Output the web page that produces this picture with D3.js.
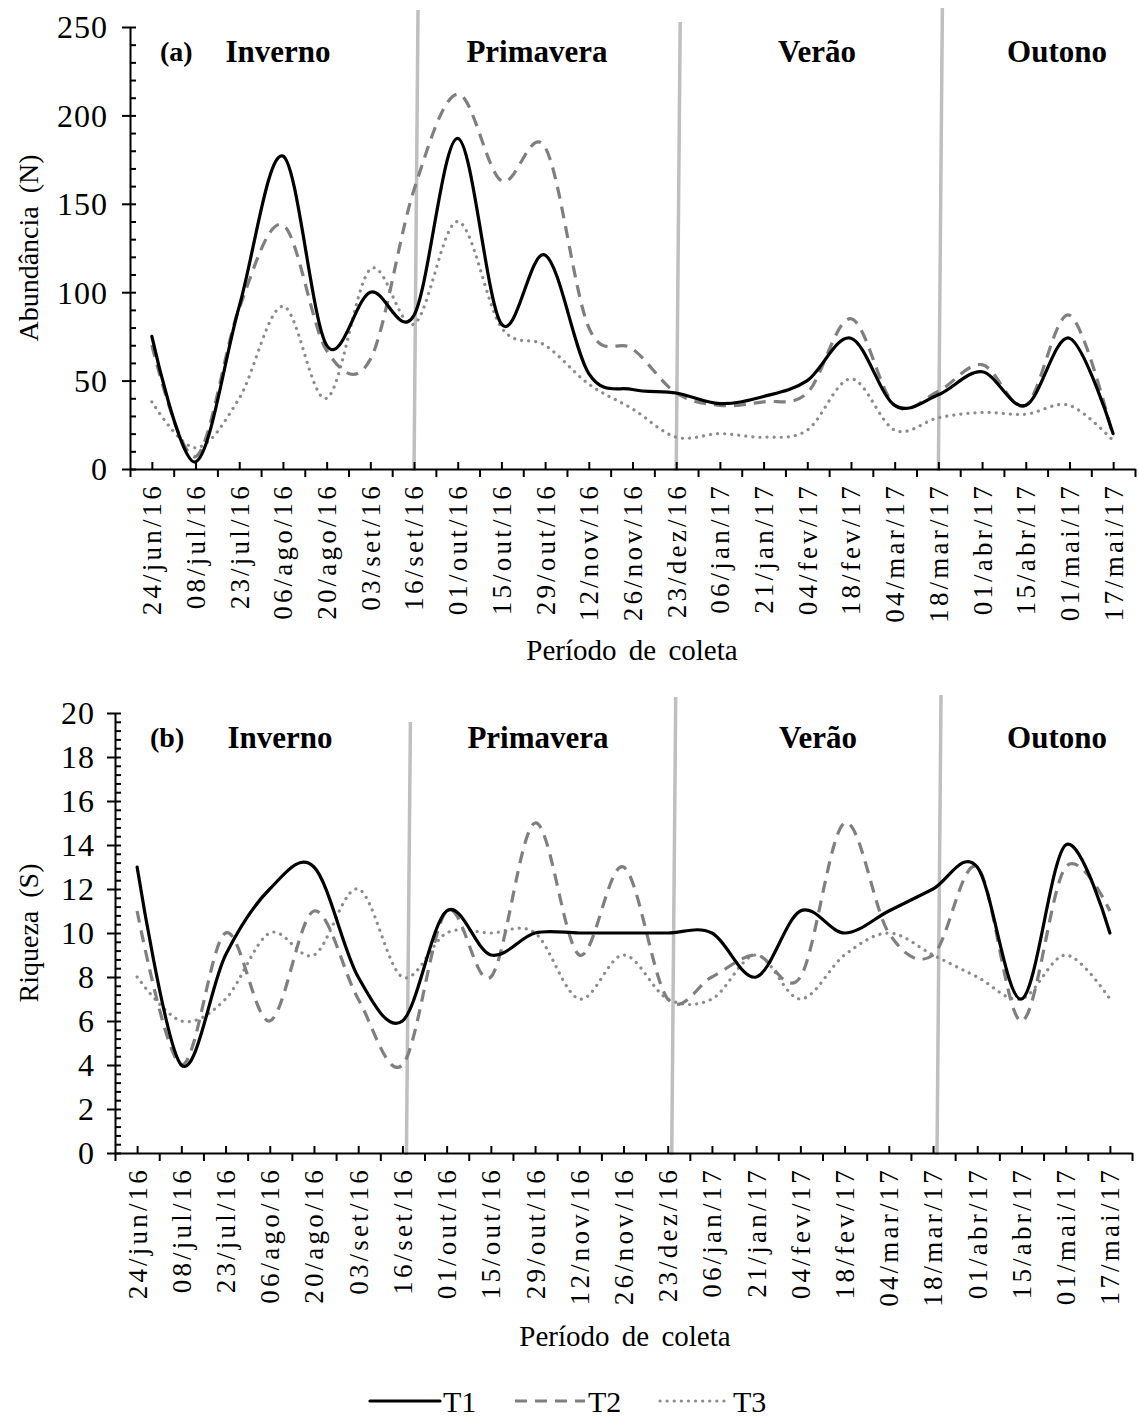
<!DOCTYPE html>
<html>
<head>
<meta charset="utf-8">
<script src="https://cdn.jsdelivr.net/npm/d3@7/dist/d3.min.js"></script>
<style>
body { margin: 0; background: #fff; }
text { font-family: "Liberation Serif", "Times New Roman", serif; fill: #000; }
</style>
</head>
<body>
<svg id="chart" width="1139" height="1423"></svg>
<script>
// collection dates
var dates = ["24/jun/16","08/jul/16","23/jul/16","06/ago/16","20/ago/16","03/set/16","16/set/16",
  "01/out/16","15/out/16","29/out/16","12/nov/16","26/nov/16","23/dez/16","06/jan/17","21/jan/17",
  "04/fev/17","18/fev/17","04/mar/17","18/mar/17","01/abr/17","15/abr/17","01/mai/17","17/mai/17"];

// (a) abundance
var abT1 = [75, 4, 92, 177, 70, 100, 87, 187, 82, 121, 54, 45, 43, 37, 41, 50, 74, 36, 42, 55, 36, 74, 20];
var abT2 = [70, 7, 91, 138, 67, 62, 158, 212, 163, 182, 80, 68, 43, 36, 38, 43, 85, 36, 44, 59, 36, 87, 18];
var abT3 = [38, 12, 40, 92, 40, 113, 82, 140, 80, 70, 48, 34, 18, 20, 18, 22, 51, 22, 29, 32, 31, 36, 16];

// (b) richness
var riT1 = [13, 4, 9, 12, 13, 8, 6, 11, 9, 10, 10, 10, 10, 10, 8, 11, 10, 11, 12, 13, 7, 14, 10];
var riT2 = [11, 4, 10, 6, 11, 7, 4, 11, 8, 15, 9, 13, 7, 8, 9, 8, 15, 10, 9, 13, 6, 13, 11];
var riT3 = [8, 6, 7, 10, 9, 12, 8, 10, 10, 10, 7, 9, 7, 7, 9, 7, 9, 10, 9, 8, 7, 9, 7];

var abTicks = [0, 50, 100, 150, 200, 250];
var riTicks = [0, 2, 4, 6, 8, 10, 12, 14, 16, 18, 20];

var seasons = ["Inverno", "Primavera", "Verão", "Outono"];
var seasonBreaks = ["16/set/16", "23/dez/16", "18/mar/17"];
var seriesNames = ["T1", "T2", "T3"];

var FONT = '"Liberation Serif", "Times New Roman", serif';
var svg = d3.select("#chart");

var lineStyle = {
  T1: {stroke: "#000", width: 3.2, dash: null, cap: "round"},
  T2: {stroke: "#7f7f7f", width: 3.2, dash: "12,8", cap: "butt"},
  T3: {stroke: "#8c8c8c", width: 3.2, dash: "0.1,7", cap: "round"}
};

function drawPanel(p) {
  var g = svg.append("g");
  var x = d3.scalePoint().domain(dates).range([p.left, p.right]).padding(0.5);
  var xEdge = d3.scaleLinear().domain([0, dates.length]).range([p.left, p.right]);
  var y = d3.scaleLinear().domain([0, p.yMax]).range([p.bottom, p.top]);

  // season separators
  seasonBreaks.forEach(function(d, i) {
    var xb = x(d) + p.lineShift;
    g.append("line")
      .attr("x1", xb).attr("y1", p.bottom + 2)
      .attr("x2", xb + 4).attr("y2", p.top + p.lineTops[i])
      .attr("stroke", "#bfbfbf").attr("stroke-width", 3.5);
  });

  // y axis: minor inside, major crossing
  var minor = d3.range(0, p.yMax + 0.001, p.minorStep);
  g.append("g").attr("transform", "translate(" + p.left + ",0)")
    .call(d3.axisLeft(y).tickValues(minor).tickSize(-6).tickSizeOuter(0).tickFormat(""))
    .call(function(a) { a.select(".domain").remove(); });
  var ya = g.append("g").attr("transform", "translate(" + p.left + ",0)")
    .call(d3.axisLeft(y).tickValues(p.ticks).tickSize(8).tickSizeOuter(0).tickPadding(p.yPad));
  ya.selectAll("text").style("font-family", FONT).style("font-size", "32px")
    .style("letter-spacing", "1px").attr("dy", "0.34em");

  // x axis: boundary ticks outside, point ticks inside
  g.append("g").attr("transform", "translate(0," + p.bottom + ")")
    .call(d3.axisBottom(xEdge).tickValues(d3.range(dates.length + 1)).tickSize(8).tickSizeOuter(0).tickFormat(""));
  g.append("g").attr("transform", "translate(0," + p.bottom + ")")
    .call(d3.axisBottom(x).tickSize(-7).tickSizeOuter(0).tickFormat(""))
    .call(function(a) { a.select(".domain").remove(); });
  g.selectAll(".domain, .tick line").attr("stroke", "#000").attr("stroke-width", 2);

  g.append("g").selectAll("text").data(dates).enter().append("text")
    .attr("transform", function(d) { return "translate(" + x(d) + "," + (p.bottom + 14) + ") rotate(-90)"; })
    .attr("text-anchor", "end").attr("dy", "0.35em")
    .style("font-family", FONT).style("font-size", "27px").style("letter-spacing", "3.2px")
    .text(function(d) { return d; });

  // series
  var line = d3.line()
    .x(function(d, i) { return x(dates[i]); })
    .y(function(d) { return y(d); })
    .curve(d3.curveCatmullRom.alpha(0));
  [p.T3, p.T2, p.T1].forEach(function(vals, k) {
    var s = lineStyle[seriesNames[2 - k]];
    g.append("path").datum(vals)
      .attr("d", line).attr("fill", "none")
      .attr("stroke", s.stroke).attr("stroke-width", s.width)
      .attr("stroke-dasharray", s.dash).attr("stroke-linecap", s.cap);
  });

  // labels
  g.append("text").attr("x", p.tagX).attr("y", p.top + 34)
    .style("font-size", "28px").style("font-weight", "bold").text(p.tag);
  g.selectAll(".season").data(seasons).enter().append("text")
    .attr("class", "season")
    .attr("x", function(d, i) { return p.seasonX[i]; }).attr("y", p.top + 35)
    .attr("text-anchor", "middle").style("font-size", "31px").style("font-weight", "bold")
    .text(function(d) { return d; });

  g.append("text")
    .attr("transform", "translate(38," + ((p.top + p.bottom) / 2) + ") rotate(-90)")
    .attr("text-anchor", "middle").style("font-size", "28px").style("word-spacing", "6px")
    .text(p.yTitle);
  g.append("text").attr("x", p.xTitleX).attr("y", p.xTitleY)
    .attr("text-anchor", "middle").style("font-size", "29px").style("word-spacing", "5px")
    .text("Período de coleta");
}

drawPanel({
  left: 130, right: 1135, top: 27, bottom: 469, yMax: 250, ticks: abTicks, minorStep: 10, yPad: 14,
  T1: abT1, T2: abT2, T3: abT3, tag: "(a)", tagX: 160,
  seasonX: [278, 537, 817, 1057], lineShift: 0, lineTops: [-17, -5, -19],
  yTitle: "Abundância (N)", xTitleX: 632, xTitleY: 660
});
drawPanel({
  left: 115, right: 1132, top: 713, bottom: 1153, yMax: 20, ticks: riTicks, minorStep: 0.4, yPad: 12,
  T1: riT1, T2: riT2, T3: riT3, tag: "(b)", tagX: 150,
  seasonX: [280, 538, 818, 1057], lineShift: 4, lineTops: [9, -16, -18],
  yTitle: "Riqueza (S)", xTitleX: 625, xTitleY: 1346
});

// legend
var legend = svg.append("g").attr("transform", "translate(370,1401)");
var legX = [0, 145, 290];
seriesNames.forEach(function(n, i) {
  var s = lineStyle[n];
  legend.append("line").attr("x1", legX[i]).attr("x2", legX[i] + 70).attr("y1", 0).attr("y2", 0)
    .attr("stroke", s.stroke).attr("stroke-width", s.width)
    .attr("stroke-dasharray", s.dash).attr("stroke-linecap", s.cap);
  legend.append("text").attr("x", legX[i] + 73).attr("y", 11).style("font-size", "30px").text(n);
});
</script>
</body>
</html>
